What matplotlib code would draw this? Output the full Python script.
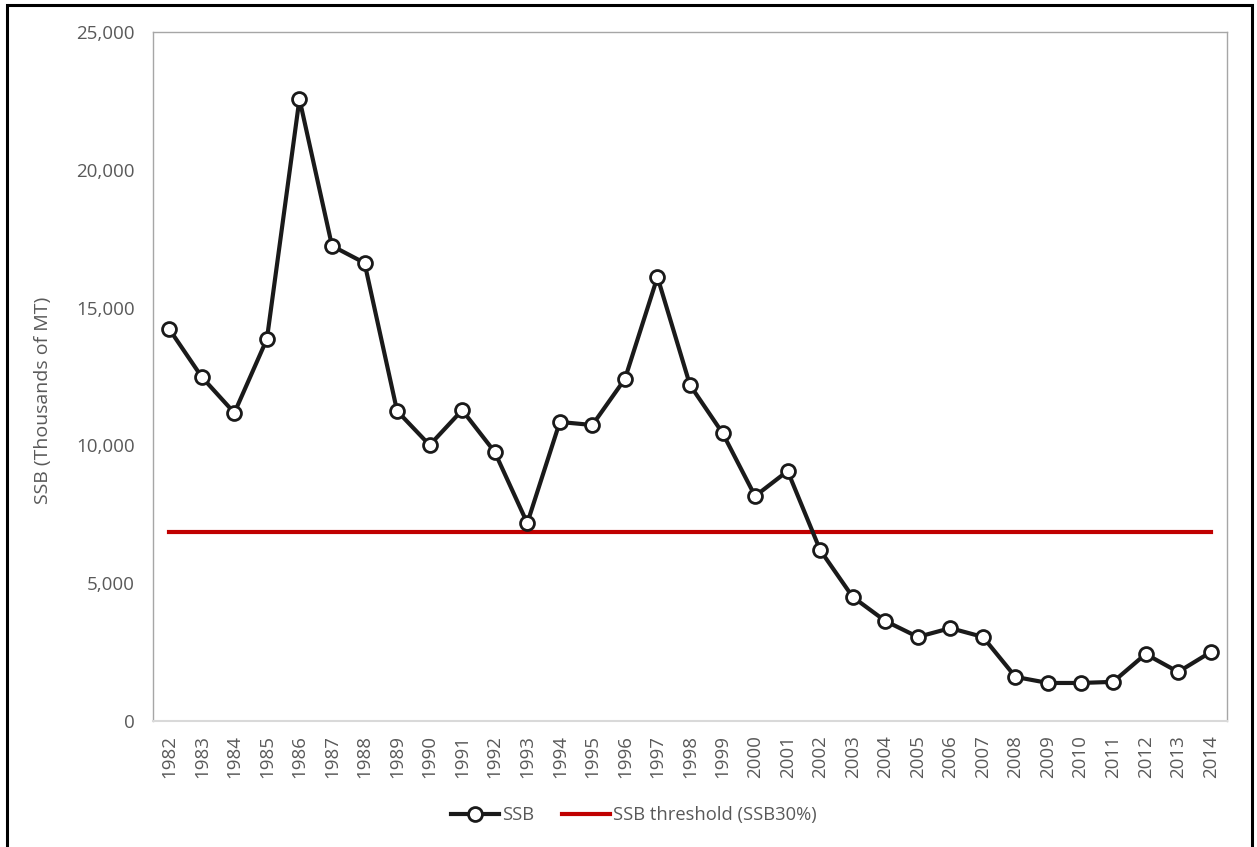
import matplotlib
matplotlib.use("Agg")
import matplotlib.pyplot as plt
import matplotlib.ticker as mticker
from matplotlib.patches import Rectangle

# SSB by year, thousands of MT
years = list(range(1982, 2015))
ssb = [14220, 12480, 11180, 13860, 22570, 17240, 16620, 11250, 10010, 11280,
       9760, 7180, 10850, 10740, 12410, 16110, 12190, 10450, 8160, 9070,
       6200, 4500, 3630, 3050, 3370, 3050, 1600, 1380, 1380, 1420,
       2430, 1780, 2500]
threshold = 6860

text_color = "#595959"
plt.rcParams["font.family"] = ["Open Sans", "DejaVu Sans"]

fig = plt.figure(figsize=(12.57, 8.47), dpi=100)
ax = fig.add_axes([153 / 1257, 1 - 721 / 847, (1227 - 153) / 1257, (721 - 32) / 847])

x = list(range(len(years)))
ax.plot(x, ssb, color="#1a1a1a", linewidth=3, marker="o", markersize=10,
        markerfacecolor="white", markeredgecolor="#1a1a1a", markeredgewidth=2,
        label="SSB", zorder=3)
ax.plot(x, [threshold] * len(x), color="#C00000", linewidth=3,
        label="SSB threshold (SSB30%)", zorder=2)

ax.set_xlim(-0.5, len(years) - 0.5)
ax.set_ylim(0, 25000)
ax.set_xticks(x)
ax.set_xticklabels([str(y) for y in years], rotation=90)
ax.yaxis.set_major_locator(mticker.MultipleLocator(5000))
ax.yaxis.set_major_formatter(mticker.StrMethodFormatter("{x:,.0f}"))
ax.tick_params(axis="both", length=0, labelsize=13.5, labelcolor=text_color)
ax.tick_params(axis="y", pad=13)
ax.tick_params(axis="x", pad=10)

for side in ("left", "top", "right"):
    ax.spines[side].set_color("#A6A6A6")
    ax.spines[side].set_linewidth(1)
ax.spines["bottom"].set_color("#D9D9D9")
ax.spines["bottom"].set_linewidth(1.5)

ax.set_ylabel("SSB (Thousands of MT)", fontsize=14, color=text_color)
ax.yaxis.set_label_coords((52 - 153) / 1074, (721 - 400) / 689)

leg = fig.legend(loc="center", bbox_to_anchor=(634 / 1257, 1 - 815 / 847), ncol=2,
                 frameon=False, fontsize=13.2, handlelength=2.6, handletextpad=0.2,
                 columnspacing=1.5)
for t in leg.get_texts():
    t.set_color(text_color)

# outer black frame
fig.patches.append(Rectangle((7 / 1257, -0.01), (1252 - 7) / 1257, 1 - 5 / 847 + 0.01,
                             transform=fig.transFigure, fill=False,
                             edgecolor="black", linewidth=2.2))

fig.savefig("out.png", dpi=100)
